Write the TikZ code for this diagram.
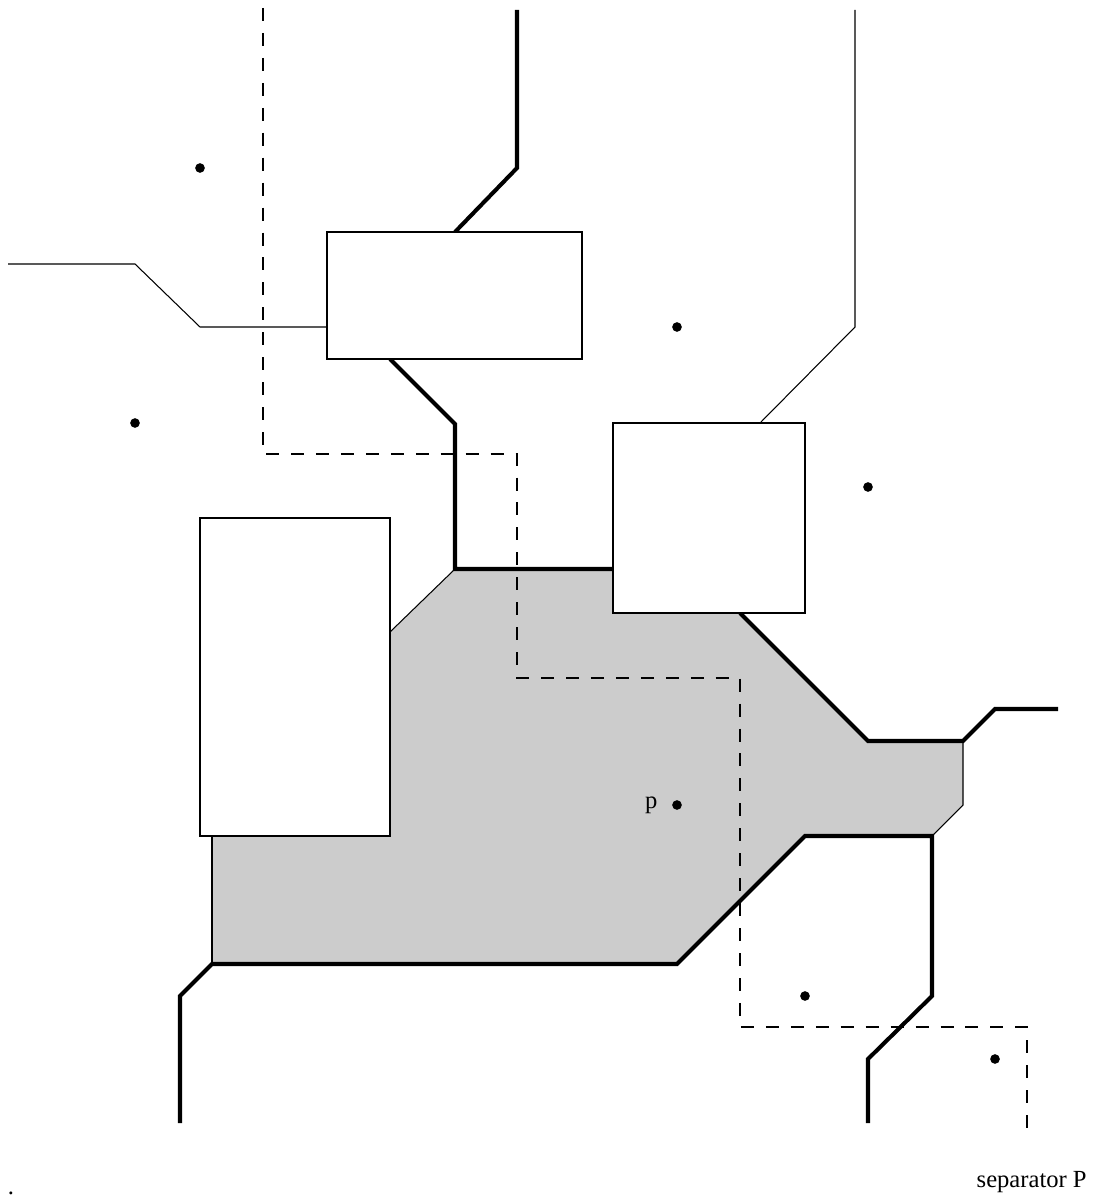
\documentclass[tikz,border=0pt]{standalone}
\usepackage{fontspec}
\setmainfont{Liberation Serif}
\usetikzlibrary{positioning}
\definecolor{regiongray}{RGB}{204,204,204}

\begin{document}
\begin{tikzpicture}[
			x=0.02cm, y=-0.02cm,
			thickpath/.style={
				line width=2.3pt,
				line join=miter
			},
			thinpath/.style={
				line width=0.6pt
			},
			sepline/.style={
				line width=0.9pt,
				dash pattern=on 7.4pt off 6.8pt
			},
			obstacle/.style={
				draw,
				line width=0.9pt,
				fill=white
			},
			site/.style={
				circle,
				fill=black,
				inner sep=0pt,
				minimum size=5.5pt
			},
			lbl/.style={
				font=\fontsize{14}{16}\selectfont,
				inner sep=0pt
			}
			]
			
			\useasboundingbox (0,0) rectangle (1095,1202);
			
			% Shaded region
			\fill[regiongray]
			(455,569) -- (613,569) -- (613,613) -- (740,613)
			-- (868,741) -- (963,741) -- (963,805) -- (932,836)
			-- (805,836) -- (677,964) -- (212,964) -- (212,836)
			-- (390,836) -- (390,632) -- cycle;
			
			% Thin borders of the region
			\draw[thinpath] (390,632) -- (455,569);
			\draw[thinpath] (963,741) -- (963,805) -- (932,836);
			\draw[thinpath] (212,836) -- (212,964);
			
			% Thin lines
			\draw[thinpath] (8,264) -- (135,264) -- (200,327) -- (327,327);
			\draw[thinpath] (855,10) -- (855,327) -- (760,423);
			
			% Thick upper line
			\draw[thickpath] (517,10) -- (517,168) -- (455,232);
			\draw[thickpath] (390,359) -- (455,424) -- (455,569) -- (613,569);
			\draw[thickpath] (740,613) -- (868,741) -- (963,741)
			-- (995,709) -- (1058,709);
			
			% Thick lower line
			\draw[thickpath] (180,1123) -- (180,996) -- (212,964)
			-- (677,964) -- (805,836) -- (932,836) -- (932,996)
			-- (868,1059) -- (868,1123);
			
			% Obstacles
			\draw[obstacle] (327,232) rectangle (582,359);
			\draw[obstacle] (613,423) rectangle (805,613);
			\draw[obstacle] (200,518) rectangle (390,836);
			
			% Separator
			\draw[sepline] (263,8) -- (263,454) -- (517,454) -- (517,678)
			-- (740,678) -- (740,1027) -- (1027,1027) -- (1027,1140);
			
			% Sites
			\node[site] (s1) at (200,168) {};
			\node[site] (s2) at (135,423) {};
			\node[site] (s3) at (677,327) {};
			\node[site] (s4) at (868,487) {};
			\node[site] (p) at (677,805) {};
			\node[site] (s6) at (805,996) {};
			\node[site] (s7) at (995,1059) {};
			
			% Labels
			\node[lbl,left=8pt of p] (plabel) {p};
			\node[lbl,anchor=base east] (sepname) at (1087,1187) {separator P};
			\node[lbl,anchor=base] (corner) at (11,1194) {.};
			
		\end{tikzpicture}
\end{document}
